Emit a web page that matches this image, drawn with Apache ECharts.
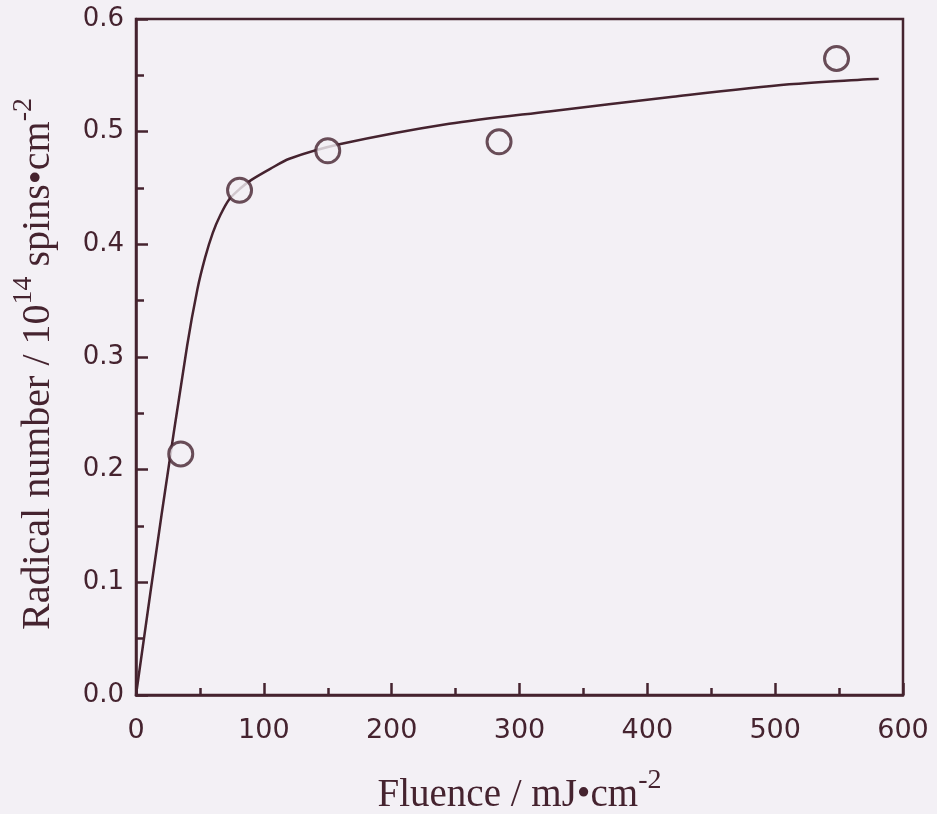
<!DOCTYPE html>
<html lang="en">
<head>
  <meta charset="UTF-8">
  <title>Radical number vs fluence</title>
  <script src="https://cdn.jsdelivr.net/npm/echarts@6/dist/echarts.min.js"></script>
  <style>
    html, body { margin: 0; padding: 0; background: #f3f0f5; }
  </style>
</head>
<body>
  <div id="main" style="width:937px;height:814px;"></div>
  <script>
  // measured points (open circles)
  var pointFluence = [35, 81, 150, 284, 548]
  var pointRadicals = [0.214, 0.448, 0.483, 0.491, 0.565]
  // fitted curve
  var curveFluence = [0, 20, 40, 48, 54, 60, 66, 73, 82, 90, 105, 120, 160, 245, 323, 420, 511, 581]
  var curveRadicals = [0, 0.16, 0.31, 0.36, 0.388, 0.41, 0.426, 0.44, 0.45, 0.457, 0.467, 0.476, 0.489, 0.507, 0.518, 0.531, 0.542, 0.547]

  var ink = '#45232f'
  var paper = '#f3f0f5'

  var myChart = echarts.init(document.getElementById('main'))
  var option = {
    backgroundColor: paper,
    animation: false,
    grid: {
      left: 136, right: 34, top: 19, bottom: 119,
      outerBoundsMode: 'none', containLabel: false,
      show: true, borderColor: ink, borderWidth: 2.5, backgroundColor: 'transparent'
    },
    xAxis: {
      type: 'value', min: 0, max: 600, interval: 100,
      axisLine: { show: true, lineStyle: { color: ink, width: 2.5 } },
      axisTick: { inside: true, length: 12, lineStyle: { color: ink, width: 2.5 } },
      minorTick: { show: true, splitNumber: 2, length: 7, lineStyle: { color: ink, width: 2.5 } },
      splitLine: { show: false },
      axisLabel: { margin: 22, color: ink, fontFamily: 'DejaVu Sans', fontSize: 27 },
      name: '{t|Fluence / mJ•cm}{s|-2}',
      nameLocation: 'middle',
      nameGap: 72,
      nameTextStyle: {
        rich: {
          t: { fontFamily: 'Liberation Serif', fontSize: 39, color: ink, lineHeight: 48, verticalAlign: 'bottom' },
          s: { fontFamily: 'Liberation Serif', fontSize: 28, color: ink, lineHeight: 48, verticalAlign: 'top' }
        }
      }
    },
    yAxis: {
      type: 'value', min: 0, max: 0.6, interval: 0.1,
      axisLine: { show: true, lineStyle: { color: ink, width: 2.5 } },
      axisTick: { inside: true, length: 12, lineStyle: { color: ink, width: 2.5 } },
      minorTick: { show: true, splitNumber: 2, length: 8, lineStyle: { color: ink, width: 2.5 } },
      splitLine: { show: false },
      axisLabel: {
        margin: 12, color: ink, fontFamily: 'DejaVu Sans', fontSize: 26,
        padding: [12, 0, 0, 0],
        formatter: function (v) { return v.toFixed(1) }
      },
      name: '{t|Radical number / 10}{s|14}{t| spins•cm}{s|-2}',
      nameLocation: 'middle',
      nameRotate: 90,
      nameGap: 78,
      nameTextStyle: {
        padding: [0, 14, 0, 0],
        rich: {
          t: { fontFamily: 'Liberation Serif', fontSize: 40, color: ink, lineHeight: 48, verticalAlign: 'bottom' },
          s: { fontFamily: 'Liberation Serif', fontSize: 28, color: ink, lineHeight: 48, verticalAlign: 'top' }
        }
      }
    },
    series: [
      {
        type: 'line',
        data: curveFluence.map(function (x, i) { return [x, curveRadicals[i]] }),
        smooth: 0.3,
        showSymbol: false,
        lineStyle: { color: ink, width: 2.5 },
        z: 2
      },
      {
        type: 'scatter',
        data: pointFluence.map(function (x, i) { return [x, pointRadicals[i]] }),
        symbol: 'circle',
        symbolSize: 24,
        itemStyle: { color: paper, borderColor: ink, borderWidth: 3 },
        z: 3
      }
    ]
  }
  myChart.setOption(option)
  </script>
</body>
</html>
